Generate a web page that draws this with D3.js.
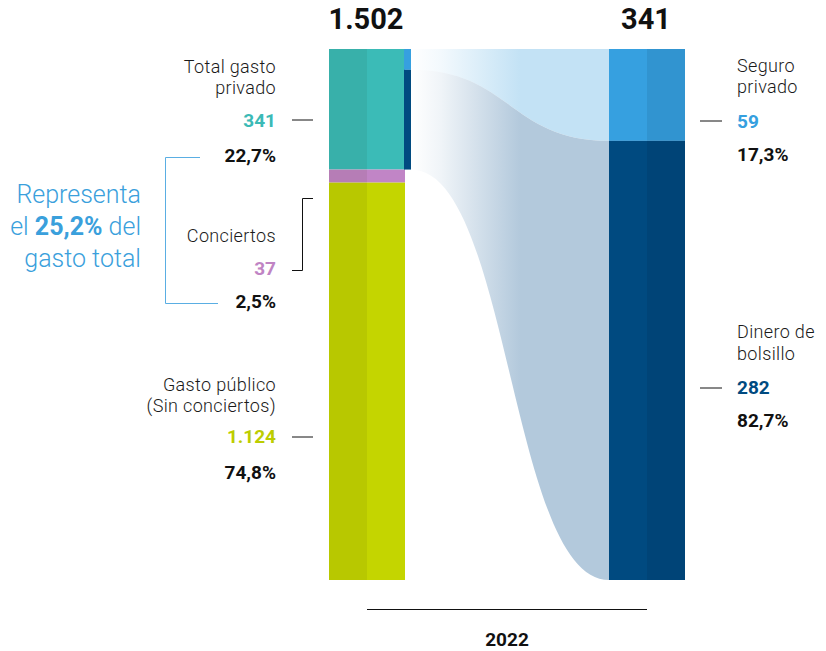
<!DOCTYPE html>
<html>
<head>
<meta charset="utf-8">
<script src="https://cdn.jsdelivr.net/npm/d3@7"></script>
<style>
  html, body { margin: 0; padding: 0; background: #ffffff; }
  svg { display: block; font-family: Roboto, "Noto Sans", sans-serif; }
</style>
</head>
<body>
<svg id="chart" width="826" height="651"></svg>
<script>
// ---- data ----
const barNames = ["total", "privado"];
const totalsLabels = [1502, 341];
const leftCategories = ["Total gasto privado", "Conciertos", "Gasto público (Sin conciertos)"];
const leftValues = [341, 37, 1124];
const leftShares = ["22,7%", "2,5%", "74,8%"];
const rightCategories = ["Seguro privado", "Dinero de bolsillo"];
const rightValues = [59, 282];
const rightShares = ["17,3%", "82,7%"];
const yearLabel = ["2022"];
const noteShare = ["25,2%"];

// ---- styles ----
const leftColorsA = ["#38b0aa", "#b67db6", "#b8c800"];
const leftColorsB = ["#3bbbb7", "#c185c6", "#c4d500"];
const leftTextColors = ["#3bbab6", "#c084c4", "#bccd00"];
const rightColorsA = ["#36a0e0", "#004a80"];
const rightColorsB = ["#3194d0", "#004477"];
const rightTextColors = ["#35a0df", "#004a80"];
const flowColors = ["#c3e2f5", "#b3c9dc"];

const locale = d3.formatLocale({decimal: ",", thousands: ".", grouping: [3], currency: ["", "€"]});
const fmt = locale.format(",");

const svg = d3.select("#chart");
const defs = svg.append("defs");

const x = d3.scaleBand().domain(barNames).range([329, 685]).paddingInner(204 / 280);
const bw = x.bandwidth();
const yL = d3.scaleLinear().domain([0, d3.sum(leftValues)]).range([580, 49]);
const yR = d3.scaleLinear().domain([0, d3.sum(rightValues)]).range([580, 49]);

let acc = d3.sum(leftValues);
const leftSeg = leftValues.map((v, i) => { const top = acc; acc -= v; return {v, i, y0: yL(top), y1: yL(acc)}; });
acc = d3.sum(rightValues);
const rightSeg = rightValues.map((v, i) => { const top = acc; acc -= v; return {v, i, y0: yR(top), y1: yR(acc)}; });

// ---- flows ----
const stripW = 7;
const stripX = x("total") + bw - 1;
const fx0 = stripX + stripW, fx1 = x("privado");
const privTop = leftSeg[0].y0, privBot = leftSeg[0].y1;
const ys = d3.scaleLinear().domain([0, d3.sum(rightValues)]).range([privTop, privBot]);
let accS = 0;
const stripSeg = rightValues.map((v, i) => { const a = accS; accS += v; return {i, y0: ys(a), y1: ys(accS)}; });

flowColors.forEach((c, i) => {
  const g = defs.append("linearGradient").attr("id", "fg" + i)
    .attr("gradientUnits", "userSpaceOnUse")
    .attr("x1", fx0).attr("x2", fx1).attr("y1", 0).attr("y2", 0);
  g.append("stop").attr("offset", "0%").attr("stop-color", c).attr("stop-opacity", 0);
  g.append("stop").attr("offset", "15%").attr("stop-color", c).attr("stop-opacity", 0.2);
  g.append("stop").attr("offset", "55%").attr("stop-color", c).attr("stop-opacity", 1);
  g.append("stop").attr("offset", "100%").attr("stop-color", c).attr("stop-opacity", 1);
});

function flowPath(a0, a1, b0, b1) {
  const xm = (fx0 + fx1) / 2;
  const p = d3.path();
  p.moveTo(fx0, a0);
  p.bezierCurveTo(xm, a0, xm, b0, fx1, b0);
  p.lineTo(fx1, b1);
  p.bezierCurveTo(xm, b1, xm, a1, fx0, a1);
  p.closePath();
  return p.toString();
}
svg.append("g").selectAll("path").data(rightSeg).join("path")
  .attr("d", (d, i) => flowPath(stripSeg[i].y0, stripSeg[i].y1, d.y0, d.y1))
  .attr("fill", (d, i) => `url(#fg${i})`);

// ---- left bar ----
const gl = svg.append("g");
gl.selectAll("rect.a").data(leftSeg).join("rect").attr("class", "a")
  .attr("x", x("total")).attr("width", bw / 2)
  .attr("y", d => d.y0).attr("height", d => d.y1 - d.y0)
  .attr("fill", d => leftColorsA[d.i]);
gl.selectAll("rect.b").data(leftSeg).join("rect").attr("class", "b")
  .attr("x", x("total") + bw / 2).attr("width", bw / 2)
  .attr("y", d => d.y0).attr("height", d => d.y1 - d.y0)
  .attr("fill", d => leftColorsB[d.i]);
gl.selectAll("rect.s").data(stripSeg).join("rect").attr("class", "s")
  .attr("x", stripX).attr("width", stripW)
  .attr("y", d => d.y0).attr("height", d => d.y1 - d.y0)
  .attr("fill", d => rightColorsA[d.i]);

// ---- right bar ----
const gr = svg.append("g");
gr.selectAll("rect.a").data(rightSeg).join("rect").attr("class", "a")
  .attr("x", x("privado")).attr("width", bw / 2)
  .attr("y", d => d.y0).attr("height", d => d.y1 - d.y0)
  .attr("fill", d => rightColorsA[d.i]);
gr.selectAll("rect.b").data(rightSeg).join("rect").attr("class", "b")
  .attr("x", x("privado") + bw / 2).attr("width", bw / 2)
  .attr("y", d => d.y0).attr("height", d => d.y1 - d.y0)
  .attr("fill", d => rightColorsB[d.i]);

// ---- totals ----
svg.append("g").selectAll("text").data(barNames).join("text")
  .attr("x", d => x(d) + bw / 2 - 1).attr("y", 29)
  .attr("text-anchor", "middle").attr("font-size", 29).attr("font-weight", 700)
  .attr("fill", "#111").text((d, i) => fmt(totalsLabels[i]));

// ---- left labels ----
const nameSize = 18, nameStep = 21;
const leftLayout = [
  {name: 73, val: 127, pct: 162, tick: 120},
  {name: 242, val: 275, pct: 308, tick: null},
  {name: 391, val: 443, pct: 479, tick: 437}
];
const leftNames = leftCategories.map(c => c === "Total gasto privado" ? ["Total gasto", "privado"]
  : c.startsWith("Gasto público") ? ["Gasto público", "(Sin conciertos)"] : [c]);
const tl = svg.append("g").attr("text-anchor", "end");
leftCategories.forEach((c, i) => {
  const L = leftLayout[i];
  const t = tl.append("text").attr("y", L.name).attr("letter-spacing", 0.35)
    .attr("font-size", nameSize).attr("font-weight", 300).attr("fill", "#1a1a1a");
  leftNames[i].forEach((ln, k) => t.append("tspan").attr("x", 276).attr("dy", k ? nameStep : 0).text(ln));
  tl.append("text").attr("x", 276).attr("y", L.val).attr("font-size", 19).attr("font-weight", 700)
    .attr("fill", leftTextColors[i]).text(fmt(leftValues[i]));
  tl.append("text").attr("x", 276).attr("y", L.pct).attr("font-size", 19).attr("font-weight", 700)
    .attr("fill", "#111").text(leftShares[i]);
  if (L.tick) svg.append("line").attr("x1", 292).attr("x2", 313).attr("y1", L.tick).attr("y2", L.tick)
    .attr("stroke", "#111").attr("stroke-width", 1);
});
svg.append("path").attr("d", "M313,198.5H302.5V270.5H292").attr("fill", "none")
  .attr("stroke", "#111").attr("stroke-width", 1);

// ---- right labels ----
const rightLayout = [
  {name: 72, val: 128, pct: 161, tick: 121},
  {name: 338, val: 394, pct: 427, tick: 388}
];
const rightNames = [["Seguro", "privado"], ["Dinero de", "bolsillo"]];
const tr = svg.append("g").attr("text-anchor", "start");
rightCategories.forEach((c, i) => {
  const L = rightLayout[i];
  const t = tr.append("text").attr("y", L.name).attr("letter-spacing", 0.35)
    .attr("font-size", nameSize).attr("font-weight", 300).attr("fill", "#1a1a1a");
  rightNames[i].forEach((ln, k) => t.append("tspan").attr("x", 737).attr("dy", k ? (i ? 22 : nameStep) : 0).text(ln));
  tr.append("text").attr("x", 737).attr("y", L.val).attr("font-size", 19).attr("font-weight", 700)
    .attr("fill", rightTextColors[i]).text(fmt(rightValues[i]));
  tr.append("text").attr("x", 737).attr("y", L.pct).attr("font-size", 19).attr("font-weight", 700)
    .attr("fill", "#111").text(rightShares[i]);
  svg.append("line").attr("x1", 700).attr("x2", 722).attr("y1", L.tick).attr("y2", L.tick)
    .attr("stroke", "#111").attr("stroke-width", 1);
});

// ---- note ----
const blue = "#3aa0dc";
svg.append("path").attr("d", "M200,157.5H165.5V303.5H218").attr("fill", "none")
  .attr("stroke", "#5aaee3").attr("stroke-width", 1);
const note = svg.append("text").attr("text-anchor", "end").attr("fill", blue)
  .attr("font-size", 25).attr("font-weight", 300).attr("y", 203);
note.append("tspan").attr("x", 141).text("Representa");
note.append("tspan").attr("x", 141).attr("dy", 32).text("el ");
note.append("tspan").attr("font-weight", 700).text(noteShare[0]);
note.append("tspan").text(" del");
note.append("tspan").attr("x", 141).attr("dy", 32).text("gasto total");

// ---- axis ----
svg.append("line").attr("x1", x("total") + bw / 2).attr("x2", x("privado") + bw / 2)
  .attr("y1", 609.5).attr("y2", 609.5).attr("stroke", "#111").attr("stroke-width", 1);
svg.append("text").attr("x", (x("total") + x("privado") + bw) / 2).attr("y", 646)
  .attr("text-anchor", "middle").attr("font-size", 19).attr("font-weight", 700)
  .attr("fill", "#111").text(yearLabel[0]);
</script>
</body>
</html>
